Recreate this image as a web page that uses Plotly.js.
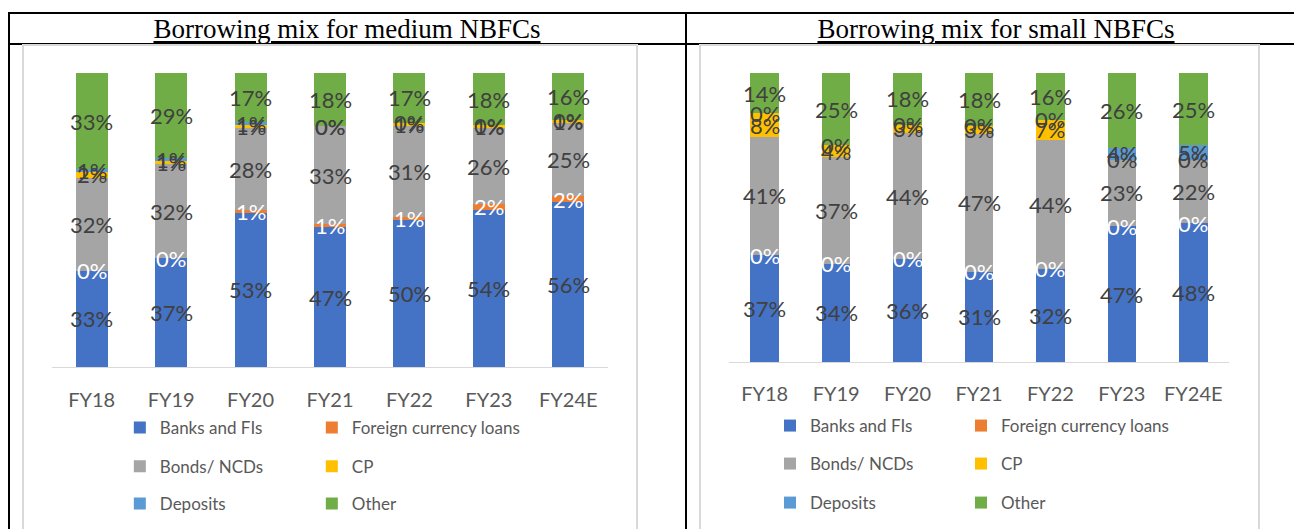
<!DOCTYPE html>
<html>
<head>
<meta charset="utf-8">
<script src="https://cdn.plot.ly/plotly-3.0.1.min.js"></script>
<style>
html,body{margin:0;padding:0;width:1294px;height:529px;overflow:hidden;background:#fff;}
.ln{position:absolute;background:#000;}
.title{position:absolute;top:14px;text-align:center;font-family:"Liberation Serif","Times New Roman",serif;font-size:27px;color:#000;white-space:nowrap;}
.title span{text-decoration:underline;text-decoration-thickness:2px;text-underline-offset:3px;}
.box{position:absolute;top:44px;height:490px;border:2px solid #d9d9d9;background:#fff;box-sizing:border-box;}
.chart{position:absolute;top:44px;height:485px;}
</style>
</head>
<body>
<div class="ln" style="left:8px;top:12px;width:1300px;height:2px"></div>
<div class="ln" style="left:8px;top:43px;width:1300px;height:2px"></div>
<div class="ln" style="left:8px;top:12px;width:2px;height:530px"></div>
<div class="ln" style="left:685px;top:12px;width:2px;height:530px"></div>
<div class="title" style="left:8px;width:678px"><span>Borrowing mix for medium NBFCs</span></div>
<div class="title" style="left:686px;width:620px"><span>Borrowing mix for small NBFCs</span></div>
<div class="box" style="left:22px;width:616px"></div>
<div class="box" style="left:699px;width:561px"></div>
<div id="c1" class="chart" style="left:22px;width:616px"></div>
<div id="c2" class="chart" style="left:700px;width:559px"></div>
<script>
// ---- data ----
const categories = ["FY18", "FY19", "FY20", "FY21", "FY22", "FY23", "FY24E"];
const seriesNames = ["Banks and FIs", "Foreign currency loans", "Bonds/ NCDs", "CP", "Deposits", "Other"];

// Medium NBFCs (%)
const medBanks    = [33, 37, 53, 47, 50, 54, 56];
const medForeign  = [0, 0, 1, 1, 1, 2, 2];
const medBonds    = [32, 32, 28, 33, 31, 26, 25];
const medCP       = [2, 1, 1, 0, 1, 1, 1];
const medDeposits = [1, 1, 1, 0, 0, 0, 0];
const medOther    = [33, 29, 17, 18, 17, 18, 16];

// Small NBFCs (%)
const smlBanks    = [37, 34, 36, 31, 32, 47, 48];
const smlForeign  = [0, 0, 0, 0, 0, 0, 0];
const smlBonds    = [41, 37, 44, 47, 44, 23, 22];
const smlCP       = [8, 4, 3, 3, 7, 0, 0];
const smlDeposits = [0, 0, 0, 0, 0, 4, 5];
const smlOther    = [14, 25, 18, 18, 16, 26, 25];

// ---- style ----
const colors = ["#4472C4", "#ED7D31", "#A5A5A5", "#FFC000", "#5B9BD5", "#70AD47"];
const labelColors = ["#404040", "#FFFFFF", "#404040", "#404040", "#404040", "#404040"];
const legendIds = ["legend", "legend2", "legend3", "legend4", "legend5", "legend6"];
const FONT = "Lato, 'Open Sans', sans-serif";

function build(div, series, cfg) {
  const traces = [];
  series.forEach((vals, i) => {
    traces.push({
      type: "bar", x: categories, y: vals, name: seriesNames[i],
      marker: {color: colors[i], line: {width: 0}},
      legend: legendIds[i], hoverinfo: "skip"
    });
  });
  // data labels, centred in each segment using the same normalisation as barnorm
  const totals = categories.map((c, k) => series.reduce((s, v) => s + v[k], 0));
  const cum = categories.map(() => 0);
  const annotations = [];
  series.forEach((vals, i) => {
    vals.forEach((v, k) => {
      const mid = (cum[k] + v / 2) / totals[k] * 100;
      cum[k] += v;
      annotations.push({
        x: categories[k], y: mid, xref: "x", yref: "y", text: v + "%",
        showarrow: false, xanchor: "center", yanchor: "middle",
        font: {family: FONT, size: 22, color: labelColors[i]}
      });
    });
  });
  const legendBase = {
    orientation: "h", xanchor: "left", yanchor: "middle",
    font: {family: FONT, size: 17, color: "#595959"},
    bgcolor: "rgba(0,0,0,0)", itemclick: false
  };
  const layout = {
    width: cfg.w, height: 485,
    margin: {l: cfg.l, r: cfg.r, t: 29, b: cfg.b, pad: 0, autoexpand: false},
    paper_bgcolor: "rgba(0,0,0,0)", plot_bgcolor: "rgba(0,0,0,0)",
    barmode: "stack", barnorm: "percent", bargap: cfg.gap,
    showlegend: true,
    annotations: annotations,
    xaxis: {type: "category", showline: true, linecolor: "#d9d9d9", linewidth: 1,
            ticks: "", showgrid: false, zeroline: false, ticklabelstandoff: cfg.standoff,
            tickfont: {family: FONT, size: 20, color: "#595959"}, fixedrange: true},
    yaxis: {range: [0, 100], visible: false, showgrid: false, zeroline: false, fixedrange: true}
  };
  legendIds.forEach((id, i) => {
    layout[id] = Object.assign({}, legendBase, {
      x: i % 2 === 0 ? cfg.lx[0] : cfg.lx[1],
      y: cfg.ly[Math.floor(i / 2)]
    });
  });
  Plotly.newPlot(div, traces, layout, {displayModeBar: false, staticPlot: true});
}

build("c1", [medBanks, medForeign, medBonds, medCP, medDeposits, medOther],
  {w: 616, l: 30, r: 30, b: 162, gap: 0.597, standoff: 15,
   lx: [0.122, 0.4673], ly: [-0.2075, -0.339, -0.466]});
build("c2", [smlBanks, smlForeign, smlBonds, smlCP, smlDeposits, smlOther],
  {w: 559, l: 29, r: 30, b: 167, gap: 0.6, standoff: 14,
   lx: [0.082, 0.464], ly: [-0.2215, -0.353, -0.488]});
</script>
</body>
</html>
